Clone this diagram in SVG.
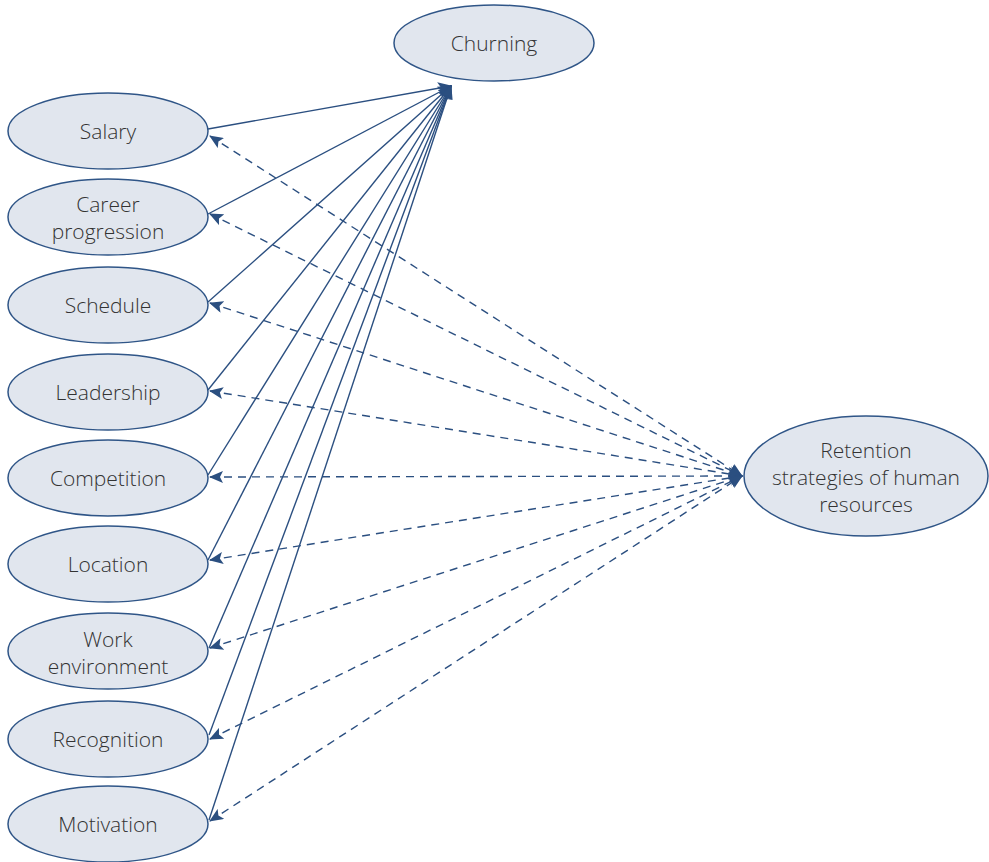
<svg xmlns="http://www.w3.org/2000/svg" width="989" height="862" viewBox="0 0 989 862">
<style>
.n ellipse{fill:#e1e6ee;stroke:#2f5587;stroke-width:1.5}
.n text{font-family:"Open Sans","DejaVu Sans",sans-serif;font-size:21px;fill:#333;text-anchor:middle;font-weight:300}
.s{stroke:#2b4f80;stroke-width:1.4;fill:none;marker-end:url(#ah)}
.d{stroke:#2b4f80;stroke-width:1.4;fill:none;stroke-dasharray:8 6;marker-start:url(#as);marker-end:url(#ah)}
</style>
<defs>
<marker id="ah" markerWidth="14" markerHeight="12" refX="13" refY="6" orient="auto" markerUnits="userSpaceOnUse"><path d="M0,0 L14,6 L0,12 L3,6 z" fill="#2b4f80"/></marker>
<marker id="as" markerWidth="14" markerHeight="12" refX="1" refY="6" orient="auto" markerUnits="userSpaceOnUse"><path d="M14,0 L0,6 L14,12 L11,6 z" fill="#2b4f80"/></marker>
</defs>
<g id="connectors">
<line class="s" x1="208" y1="129" x2="451" y2="86"/>
<line class="s" x1="208" y1="214" x2="451" y2="86"/>
<line class="s" x1="208" y1="302" x2="451" y2="86"/>
<line class="s" x1="208" y1="390" x2="451" y2="86"/>
<line class="s" x1="208" y1="475" x2="451" y2="86"/>
<line class="s" x1="208" y1="560" x2="451" y2="86"/>
<line class="s" x1="209" y1="648" x2="451" y2="86"/>
<line class="s" x1="209" y1="735" x2="451" y2="86"/>
<line class="s" x1="209" y1="820" x2="451" y2="86"/>
<line class="d" x1="210" y1="136" x2="742" y2="476"/>
<line class="d" x1="210" y1="214" x2="742" y2="476"/>
<line class="d" x1="210" y1="303" x2="742" y2="476"/>
<line class="d" x1="210" y1="391" x2="742" y2="476"/>
<line class="d" x1="210" y1="477" x2="742" y2="476"/>
<line class="d" x1="210" y1="560" x2="742" y2="476"/>
<line class="d" x1="210" y1="648" x2="742" y2="476"/>
<line class="d" x1="210" y1="739" x2="742" y2="476"/>
<line class="d" x1="210" y1="821" x2="742" y2="476"/>
</g>
<g id="churning" class="n"><ellipse cx="494" cy="43" rx="100" ry="38"/><text x="494" y="51">Churning</text></g>
<g id="retention" class="n"><ellipse cx="866" cy="476" rx="122" ry="60"/><text x="866" y="458">Retention</text><text x="866" y="485">strategies of human</text><text x="866" y="512">resources</text></g>
<g id="salary" class="n"><ellipse cx="108" cy="131" rx="100" ry="38"/><text x="108" y="139">Salary</text></g>
<g id="career" class="n"><ellipse cx="108" cy="217" rx="100" ry="38"/><text x="108" y="212">Career</text><text x="108" y="239">progression</text></g>
<g id="schedule" class="n"><ellipse cx="108" cy="305" rx="100" ry="38"/><text x="108" y="313">Schedule</text></g>
<g id="leadership" class="n"><ellipse cx="108" cy="392" rx="100" ry="38"/><text x="108" y="400">Leadership</text></g>
<g id="competition" class="n"><ellipse cx="108" cy="478" rx="100" ry="38"/><text x="108" y="486">Competition</text></g>
<g id="location" class="n"><ellipse cx="108" cy="564" rx="100" ry="38"/><text x="108" y="572">Location</text></g>
<g id="work" class="n"><ellipse cx="108" cy="651" rx="100" ry="38"/><text x="108" y="647">Work</text><text x="108" y="674">environment</text></g>
<g id="recognition" class="n"><ellipse cx="108" cy="739" rx="100" ry="38"/><text x="108" y="747">Recognition</text></g>
<g id="motivation" class="n"><ellipse cx="108" cy="824" rx="100" ry="38"/><text x="108" y="832">Motivation</text></g>
</svg>
